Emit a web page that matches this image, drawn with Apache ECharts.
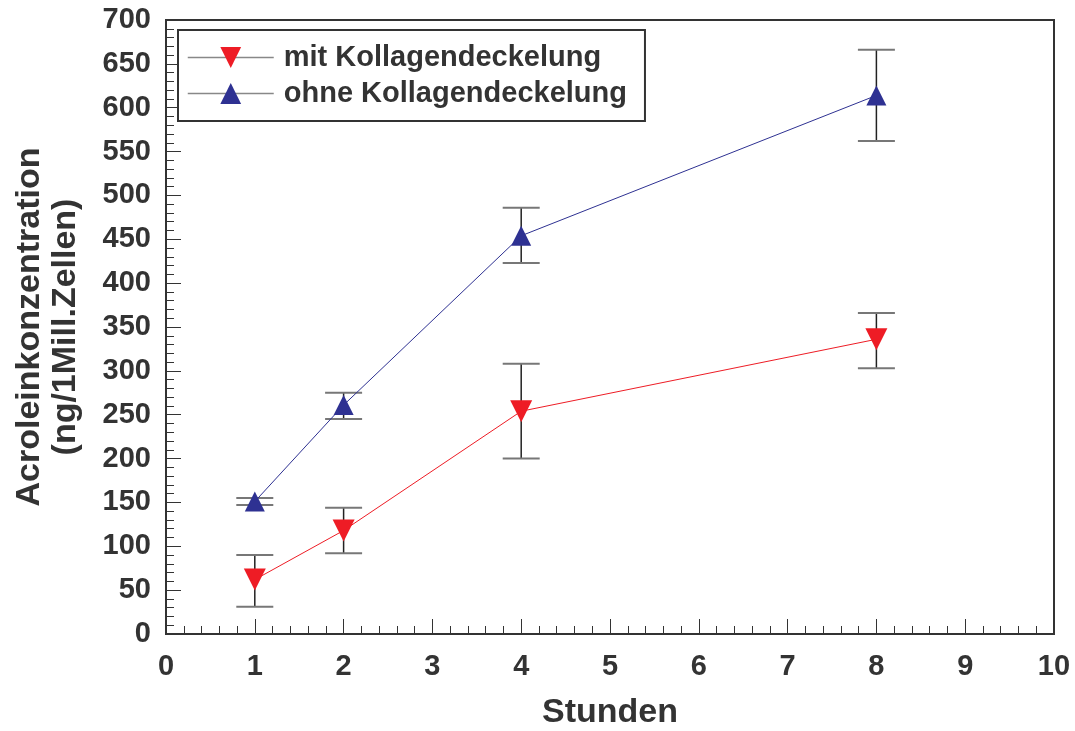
<!DOCTYPE html>
<html><head><meta charset="utf-8">
<script src="https://cdn.jsdelivr.net/npm/echarts@6/dist/echarts.min.js"></script>
<style>html,body{margin:0;padding:0;background:#fff}#c{width:1075px;height:731px}</style>
</head><body><div id="c"></div>
<script>
const hours = [1, 2, 4, 8];
const mitMean = [62, 118, 254, 336];
const mitLow = [31, 92, 200, 303];
const mitHigh = [90, 144, 308, 366];
const ohneMean = [151, 261, 454, 614];
const ohneLow = [147, 245, 423, 562];
const ohneHigh = [155, 275, 486, 666];
const xTicks = [0,1,2,3,4,5,6,7,8,9,10];
const yTicks = [0,50,100,150,200,250,300,350,400,450,500,550,600,650,700];

const FONT = '"Liberation Sans", Arial, Helvetica, sans-serif';
const AX = '#333';

function errSeries(low, high, name) {
  return {
    type: 'custom', name: name + '_err', z: 1, silent: true,
    data: hours.map((h, i) => [h, low[i], high[i]]),
    renderItem: function (params, api) {
      const lo = api.coord([api.value(0), api.value(1)]);
      const hi = api.coord([api.value(0), api.value(2)]);
      const w = 18.5;
      return {
        type: 'group', children: [
          {type: 'line', shape: {x1: lo[0], y1: lo[1], x2: hi[0], y2: hi[1]}, style: {stroke: '#222', lineWidth: 1.5}},
          {type: 'line', shape: {x1: lo[0]-w, y1: lo[1], x2: lo[0]+w, y2: lo[1]}, style: {stroke: '#777', lineWidth: 2}},
          {type: 'line', shape: {x1: hi[0]-w, y1: hi[1], x2: hi[0]+w, y2: hi[1]}, style: {stroke: '#777', lineWidth: 2}}
        ]
      };
    }
  };
}

const chart = echarts.init(document.getElementById('c'), null, {renderer: 'canvas'});
chart.setOption({
  animation: false,
  backgroundColor: '#fff',
  grid: {left: 166, right: 21, top: 20, bottom: 97, containLabel: false, outerBoundsMode: 'none',
         show: true, borderColor: AX, borderWidth: 2, backgroundColor: 'transparent'},
  xAxis: {
    type: 'value', min: xTicks[0], max: xTicks[xTicks.length-1], interval: 1,
    name: 'Stunden', nameLocation: 'middle', nameGap: 62,
    nameTextStyle: {fontFamily: FONT, fontWeight: 'bold', fontSize: 34, color: AX},
    axisLine: {show: true, lineStyle: {color: AX, width: 2}},
    axisTick: {show: true, inside: true, length: 15, lineStyle: {color: AX, width: 1}},
    minorTick: {show: true, splitNumber: 5, length: 8, lineStyle: {color: AX, width: 1}},
    splitLine: {show: false},
    axisLabel: {fontFamily: FONT, fontWeight: 'bold', fontSize: 29, color: AX, margin: 18}
  },
  yAxis: {
    type: 'value', min: yTicks[0], max: yTicks[yTicks.length-1], interval: 50,
    name: 'Acroleinkonzentration\n(ng/1Mill.Zellen)', nameLocation: 'middle', nameGap: 82, nameRotate: 90,
    nameTextStyle: {fontFamily: FONT, fontWeight: 'bold', fontSize: 34, color: AX, lineHeight: 36},
    axisLine: {show: true, lineStyle: {color: AX, width: 2}},
    axisTick: {show: true, inside: true, length: 15, lineStyle: {color: AX, width: 1}},
    minorTick: {show: true, splitNumber: 5, length: 8, lineStyle: {color: AX, width: 1}},
    splitLine: {show: false},
    axisLabel: {fontFamily: FONT, fontWeight: 'bold', fontSize: 29, color: AX, margin: 15}
  },
  legend: {
    show: true, orient: 'vertical', left: 178, top: 30,
    data: ['mit Kollagendeckelung', 'ohne Kollagendeckelung'],
    backgroundColor: '#fff', borderColor: AX, borderWidth: 2,
    padding: [12, 18, 12, 9], itemWidth: 86, itemHeight: 26, itemGap: 5,
    lineStyle: {color: '#888', width: 1.5},
    textStyle: {fontFamily: FONT, fontWeight: 'bold', fontSize: 29, color: AX, lineHeight: 31, padding: [0, 0, 0, 5]}
  },
  series: [
    errSeries(mitLow, mitHigh, 'mit'),
    errSeries(ohneLow, ohneHigh, 'ohne'),
    {
      type: 'line', name: 'mit Kollagendeckelung', z: 3,
      data: hours.map((h, i) => [h, mitMean[i]]),
      symbol: 'triangle', symbolRotate: 180, symbolSize: [22, 22],
      lineStyle: {color: '#ee1c25', width: 1},
      itemStyle: {color: '#ee1c25'}
    },
    {
      type: 'line', name: 'ohne Kollagendeckelung', z: 3,
      data: hours.map((h, i) => [h, ohneMean[i]]),
      symbol: 'triangle', symbolSize: [20, 20],
      lineStyle: {color: '#2e3192', width: 1},
      itemStyle: {color: '#2e3192'}
    }
  ]
});
</script></body></html>
